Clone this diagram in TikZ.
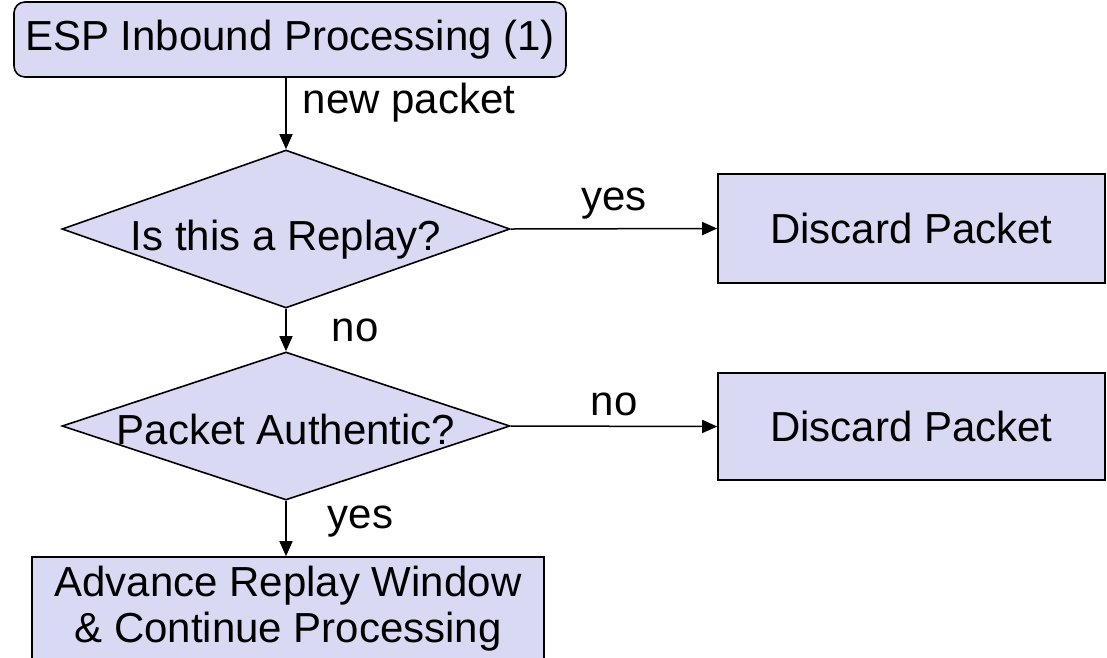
\documentclass[tikz,border=0pt]{standalone}
\usepackage{fontspec}
\setmainfont{Liberation Sans}
\usetikzlibrary{arrows.meta,shapes.geometric}
\definecolor{boxfill}{RGB}{217,217,244}
\tikzset{
  x=1pt,y=-1pt,
  every node/.style={font=\fontsize{42}{46}\selectfont},
  boxshape/.style={draw=black,line width=1.6pt,fill=boxfill,rectangle,inner sep=0pt},
  decision/.style={draw=black,line width=1.6pt,fill=boxfill,diamond,inner sep=0pt,aspect=2.84,minimum width=448pt,minimum height=158pt,text depth=0pt},
  flow/.style={line width=1.5pt,-{Triangle[length=15pt,width=13pt]}},
  lbl/.style={inner sep=0pt}
}
\begin{document}
\begin{tikzpicture}
\useasboundingbox (0,0) rectangle (1107,657);
\clip (0,0) rectangle (1107,657);
\node[boxshape,rounded corners=11pt,minimum width=552pt,minimum height=75pt] (start) at (290,39.5) {ESP Inbound Processing (1)};
\node[decision,text height=42pt] (d1) at (286,229) {Is this a Replay?};
\node[boxshape,minimum width=387pt,minimum height=109pt] (dis1) at (911.5,228.5) {Discard Packet};
\node[decision,aspect=3.03,minimum height=148pt,text height=36pt] (d2) at (286,426) {Packet Authentic?};
\node[boxshape,minimum width=512pt,minimum height=104pt,align=center] (adv) at (288,609) {Advance Replay Window\\\& Continue Processing};
\node[boxshape,minimum width=387pt,minimum height=107pt] (dis2) at (911.5,426.5) {Discard Packet};
\draw[flow] (start.south -| d1.north) -- (d1.north) node[lbl,pos=0.35,right=16pt] {new packet};
\draw[flow] (d1.east) -- (dis1.west) node[lbl,midway,above=9pt] {yes};
\draw[flow] (d1.south) -- (d2.north) node[lbl,midway,right=45pt] {no};
\draw[flow] (d2.east) -- (dis2.west) node[lbl,midway,above=10pt] {no};
\draw[flow] (d2.south) -- (d2.south |- adv.north) node[lbl,pos=0.38,right=41pt] {yes};
\end{tikzpicture}
\end{document}
